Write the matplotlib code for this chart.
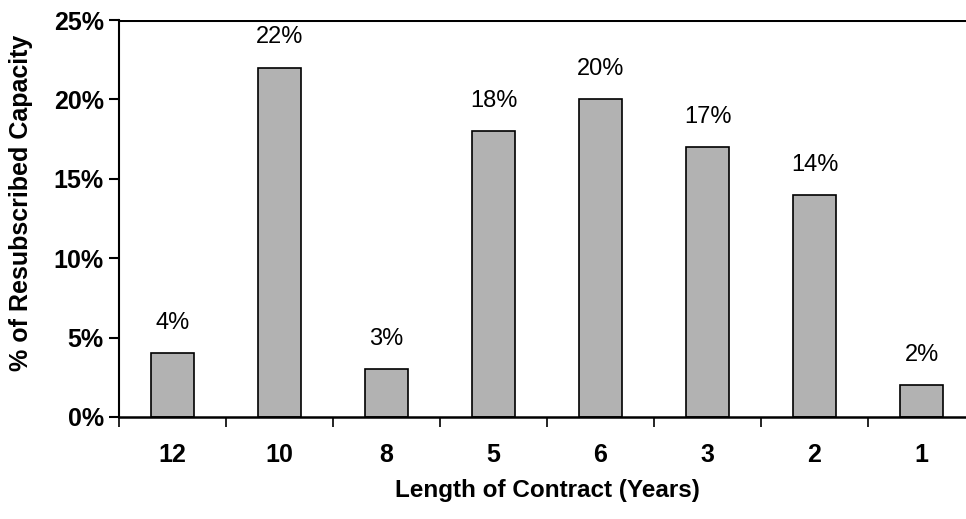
import matplotlib.pyplot as plt

# data
contract_years = ['12', '10', '8', '5', '6', '3', '2', '1']
pct_capacity = [4, 22, 3, 18, 20, 17, 14, 2]
y_ticks = [0, 5, 10, 15, 20, 25]

plt.rcParams['font.family'] = ['Liberation Sans', 'DejaVu Sans']

fig = plt.figure(figsize=(9.66, 5.19), dpi=100)
# axes runs a little past the right edge, like the source
ax = fig.add_axes([119 / 966, 1 - 417 / 519, 856 / 966, 397 / 519])

x = range(len(contract_years))
ax.bar(x, pct_capacity, width=0.41, color='#b2b2b2', edgecolor='black', linewidth=1.2, zorder=2)

for i, v in enumerate(pct_capacity):
    ax.text(i, v + 1.9, f'{v}%', ha='center', va='center', fontsize=17)

ax.set_xlim(-0.5, len(contract_years) - 0.5)
ax.set_ylim(0, 25)

ax.set_yticks(y_ticks)
ax.set_yticklabels([f'{t}%' for t in y_ticks], fontsize=18, fontweight='bold')
ax.set_xticks(list(x))
ax.set_xticklabels(contract_years, fontsize=18, fontweight='bold')
ax.tick_params(axis='x', length=0, pad=19)
ax.tick_params(axis='y', length=7, width=1.5, pad=4)

# tick marks between categories
ax.set_xticks([i - 0.5 for i in range(len(contract_years) + 1)], minor=True)
ax.tick_params(axis='x', which='minor', length=7, width=1.2)

# top line at 25%
ax.axhline(25, color='black', linewidth=2.2, zorder=3)

for s in ['top', 'right']:
    ax.spines[s].set_visible(False)
ax.spines['left'].set_linewidth(1.5)
ax.spines['bottom'].set_linewidth(1.8)

ax.set_xlabel('Length of Contract (Years)', fontsize=17.5, fontweight='bold', labelpad=8)
ax.set_ylabel('% of Resubscribed Capacity', fontsize=18, fontweight='bold')
ax.yaxis.set_label_coords(-0.101, 0.54)

plt.savefig('out.png', dpi=100)
